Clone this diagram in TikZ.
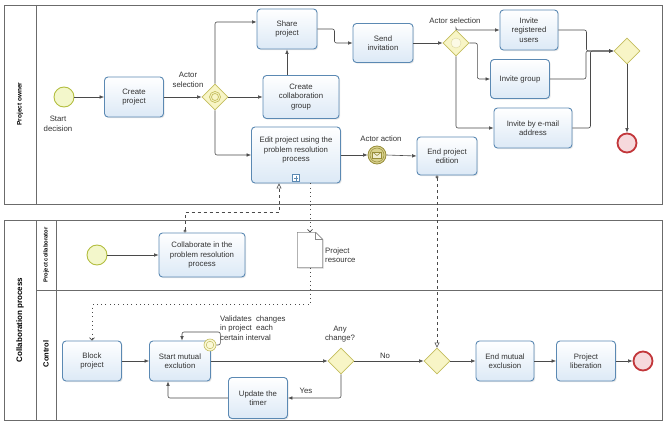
\documentclass[tikz,border=0pt]{standalone}
\usepackage{fontspec}
\setmainfont{Liberation Sans}
\usetikzlibrary{shapes.geometric,arrows.meta,shadows,positioning}
\definecolor{taskline}{HTML}{5B89B3}
\definecolor{taskfill}{HTML}{DCE9F6}
\definecolor{gwline}{HTML}{C4BD5E}
\definecolor{gwfill}{HTML}{F8F5C6}
\definecolor{startline}{HTML}{B3BE3F}
\definecolor{startfill}{HTML}{F3F7CB}
\definecolor{endline}{HTML}{C2363A}
\definecolor{endfill}{HTML}{F6D9DC}
\definecolor{msgline}{HTML}{978D3A}
\definecolor{msgfill}{HTML}{D9D28E}
\definecolor{poolline}{HTML}{6B6B6B}
\definecolor{flowline}{HTML}{4A4A4A}
\definecolor{txt}{HTML}{333333}
\tikzset{my task/.style={draw=taskline, line width=0.9pt, rounded corners=3.5pt, top color=white, bottom color=taskfill, drop shadow={opacity=0.18, shadow xshift=1.2pt, shadow yshift=-1.2pt}, align=center, text=txt, inner sep=1pt, font=\fontsize{7.8}{9.4}\selectfont},
my gateway/.style={diamond, aspect=1, draw=gwline, fill=gwfill, line width=0.8pt, minimum width=26pt, minimum height=26pt, inner sep=0pt},
my start/.style={circle, draw=startline, fill=startfill, line width=0.9pt, minimum size=20pt, inner sep=0pt},
my end/.style={circle, draw=endline, fill=endfill, line width=1.8pt, minimum size=19pt, inner sep=0pt},
lbl/.style={font=\fontsize{7.8}{9.4}\selectfont, text=txt, align=center, inner sep=0pt},
lane lbl/.style={rotate=90, font=\bfseries, text=black, inner sep=0pt},
pool/.style={draw=poolline, line width=0.9pt},
flow/.style={draw=flowline, line width=0.6pt, rounded corners=2pt, -{Latex[length=4.5pt,width=3.6pt]}},
msg flow/.style={draw=flowline, line width=0.6pt, dashed, {Circle[open,length=3pt,width=3pt,fill=white]}-{Triangle[open,length=5pt,width=5pt,fill=white]}},
assoc/.style={draw=flowline, line width=0.7pt, dash pattern=on 0.8pt off 3.5pt, -{Straight Barb[length=2.5pt,width=5pt]}},}

\begin{document}
\begin{tikzpicture}[x=1pt, y=-1pt]
\useasboundingbox (0,0) rectangle (667,428);

\draw[pool] (4,5) rectangle (662,204);
\draw[pool] (36,5) -- (36,204);
\draw[pool] (4,220) rectangle (662,420);
\draw[pool] (36,220) -- (36,420);
\draw[pool] (56,220) -- (56,420);
\draw[pool] (36,290) -- (662,290);
\node[lane lbl, font=\fontsize{6.5}{7}\bfseries] (ownerlbl) at (20,104) {Project owner};
\node[lane lbl, font=\fontsize{8}{9}\bfseries] (collproclbl) at (20,320) {Collaboration process};
\node[lane lbl, font=\fontsize{5.8}{6}\bfseries] (collablbl) at (46,255) {Project collaborator};
\node[lane lbl, font=\fontsize{7.5}{8}\bfseries] (controllbl) at (46,354) {Control};

\node[my start] (start) at (64,97) {};
\node[lbl] (startlbl) at (58,124) {Start\\decision};
\node[my task, minimum width=59pt, minimum height=40pt] (create) at (134,97) {Create\\project};
\node[my gateway] (gw1) at (215,97) {};
\draw[gwline, line width=0.7pt] (gw1.center) circle[radius=5.5pt] (gw1.center) circle[radius=3.5pt];
\node[lbl] (sel1) at (188,80) {Actor\\selection};
\node[my task, minimum width=60pt, minimum height=40pt] (share) at (287,29) {Share\\project};
\node[my task, minimum width=76pt, minimum height=43pt] (collab) at (301,97) {Create\\collaboration\\group};
\node[my task, minimum width=89pt, minimum height=56pt, text depth=11pt] (edit) at (296,155) {Edit project using the\\problem resolution\\process};
\node[draw=taskline, fill=white, line width=0.7pt, minimum size=7pt, inner sep=0pt, above=1.5pt of edit.south] (editplus) {};
\draw[taskline, line width=0.9pt] ([yshift=2.4pt]editplus.center) -- ([yshift=-2.4pt]editplus.center) ([xshift=-2.4pt]editplus.center) -- ([xshift=2.4pt]editplus.center);
\node[my task, minimum width=60pt, minimum height=39pt] (send) at (383,43) {Send\\invitation};
\node[my gateway] (gw2) at (456,43) {};
\fill[white!55!gwfill, draw=gwline!60, line width=0.4pt] (gw2.center) circle[radius=5pt];
\node[lbl] (sel2) at (455,21) {Actor selection};
\node[my task, minimum width=58pt, minimum height=40pt] (reg) at (529,30) {Invite\\registered\\users};
\node[my task, minimum width=59pt, minimum height=39pt] (grp) at (520,79) {Invite group};
\node[my task, minimum width=78pt, minimum height=40pt] (mail) at (533,128) {Invite by e-mail\\address};
\node[my gateway] (gw3) at (627,51) {};
\node[my end] (end1) at (627,143) {};
\node[circle, draw=msgline, fill=msgfill, line width=0.8pt, minimum size=18pt, inner sep=0pt] (msg) at (377,155) {};
\draw[msgline, line width=0.5pt] (msg.center) circle[radius=7pt];
\draw[msgline, fill=white!60!msgfill, line width=0.6pt] ([shift={(-4.5pt,-3pt)}]msg.center) rectangle ([shift={(4.5pt,3pt)}]msg.center);
\draw[msgline, line width=0.6pt] ([shift={(-4.5pt,3pt)}]msg.center) -- ([shift={(0pt,-0.5pt)}]msg.center) -- ([shift={(4.5pt,3pt)}]msg.center);
\node[lbl] (actlbl) at (381,139) {Actor action};
\node[my task, minimum width=60pt, minimum height=38pt] (endedit) at (447,156) {End project\\edition};

\draw[flow] (start) -- (create);
\draw[flow] (create) -- (gw1);
\draw[flow] (gw1.north) |- (share.167);
\draw[flow] (gw1.east) -- (collab.west);
\draw[flow] (gw1.south) |- (edit.west);
\draw[flow] (share.south |- collab.north) -- (share.south);
\draw[flow] (share.east) -- ++(17,0) |- (send.west);
\draw[flow] (send.east) -- (gw2.west);
\draw[flow] (gw2.north) |- (reg.west);
\draw[flow] (gw2.east) -- ++(8,0) |- (grp.west);
\draw[flow] (gw2.south) |- (mail.west);
\draw[flow] (reg.east) -- ++(28,0) |- (gw3.west);
\draw[flow] (grp.east) -- ++(36,0) |- (gw3.west);
\draw[flow] (mail.east) -- ++(18,0) |- (gw3.west);
\draw[flow] (gw3.south) -- (end1.north);
\draw[flow] (edit.east) -- (msg.west);
\draw[flow] (msg.east) -- (endedit.west);

\node[my start] (start2) at (97,255) {};
\node[my task, minimum width=86pt, minimum height=44pt] (collabor) at (202,255) {Collaborate in the\\problem resolution\\process};
\node[minimum width=25pt, minimum height=35pt, inner sep=0pt] (doc) at (310,250) {};
\draw[draw=poolline!80, fill=white, line width=0.6pt, drop shadow={opacity=0.15, shadow xshift=1.2pt, shadow yshift=-1.2pt}] (doc.south west) -- (doc.north west) -- ([xshift=-7pt]doc.north east) -- ([yshift=-7pt]doc.north east) -- (doc.south east) -- cycle;
\draw[draw=poolline!80, line width=0.6pt] ([xshift=-7pt]doc.north east) -- ([xshift=-7pt,yshift=-7pt]doc.north east) -- ([yshift=-7pt]doc.north east);
\node[lbl, align=left, anchor=west] (doclbl) at (325,255) {Project\\resource};
\node[my task, minimum width=59pt, minimum height=40pt] (block) at (92,361) {Block\\project};
\node[my task, minimum width=61pt, minimum height=40pt] (mutex) at (180,361) {Start mutual\\exclution};
\node[circle, draw=gwline, fill=gwfill!70, line width=0.6pt, minimum size=12pt, inner sep=0pt] (timer) at (210,345) {};
\draw[gwline, line width=0.5pt] (timer.center) circle[radius=3.8pt];
\node[lbl, align=left, anchor=west] (vallbl) at (220,328) {Validates\ \ changes\\in project\ \ each\\certain interval};
\node[my gateway] (anychg) at (341,361) {};
\node[lbl] (chglbl) at (340,334) {Any\\change?};
\node[my gateway] (gw5) at (437,361) {};
\node[my task, minimum width=59pt, minimum height=41pt] (timerupd) at (258,398) {Update the\\timer};
\node[my task, minimum width=58pt, minimum height=40pt] (endmutex) at (505,361) {End mutual\\exclusion};
\node[my task, minimum width=59pt, minimum height=40pt] (lib) at (586,361) {Project\\liberation};
\node[my end] (end2) at (643,361) {};
\node[lbl] (nolbl) at (385,356) {No};
\node[lbl] (yeslbl) at (306,391) {Yes};

\draw[flow] (start2) -- (collabor);
\draw[msg flow] ([xshift=-17pt]collabor.north) -- ++(0,-20) -| ([xshift=-17pt]edit.south);
\draw[assoc] ([xshift=14pt]edit.south) -- (doc.north);
\draw[assoc] (doc.south) -- ++(0,37) -| (block.north);
\draw[msg flow] (gw5.north |- endedit.south) -- (gw5.north);
\draw[flow] (block) -- (mutex);
\draw[flow] (mutex) -- (anychg);
\draw[flow] (anychg) -- (gw5);
\draw[flow] (gw5) -- (endmutex);
\draw[flow] (endmutex) -- (lib);
\draw[flow] (lib) -- (end2);
\draw[flow] (anychg.south) |- (timerupd.east);
\draw[flow] (timerupd.west) -| ([xshift=-12pt]mutex.south);
\draw[flow] (timer.east) -- ++(4,0) -- ++(0,-13) -| ([xshift=2pt]mutex.north);
\end{tikzpicture}
\end{document}
